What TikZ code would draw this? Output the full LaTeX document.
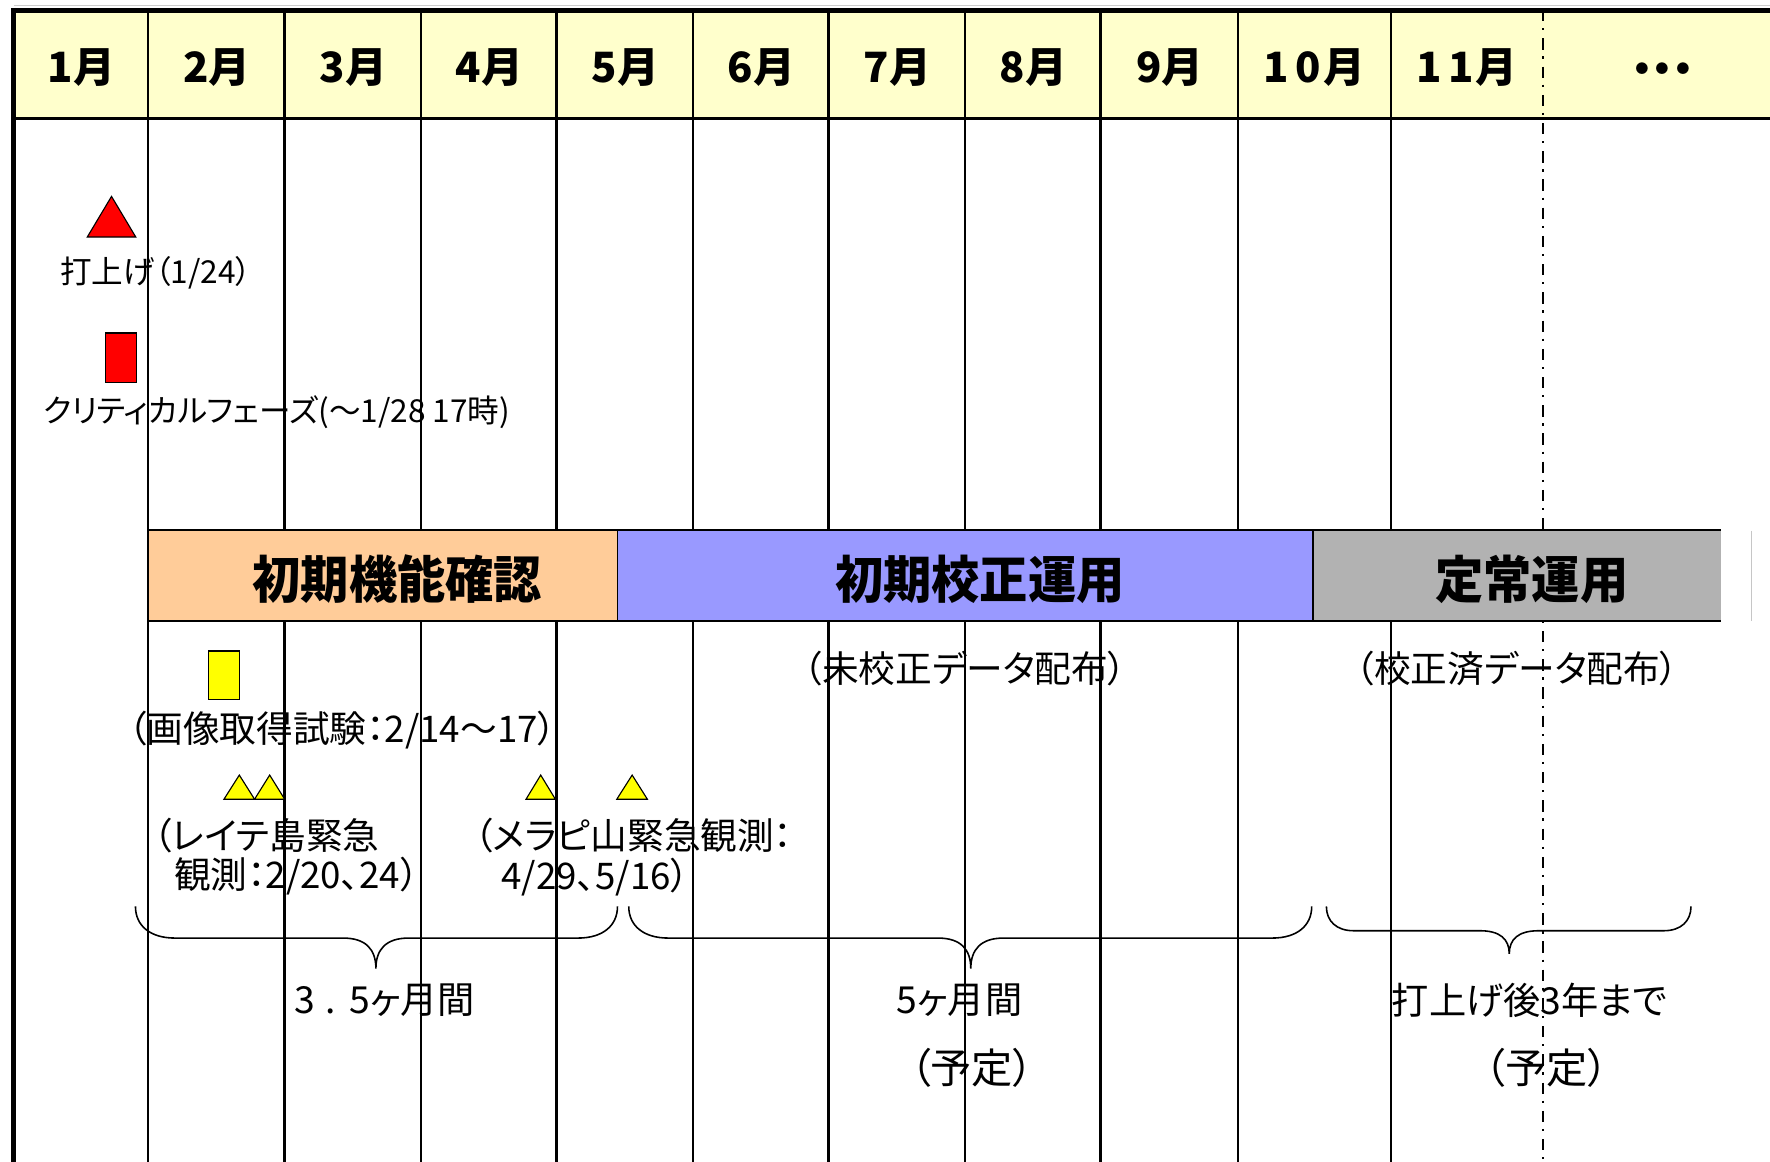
\documentclass[tikz,border=0pt]{standalone}
\usepackage{fontspec}
\setmainfont{Noto Sans CJK JP}[RawFeature=+palt]
\newfontfamily\hdfont{Noto Sans CJK JP}[RawFeature=+palt]
\newfontfamily\phfont{Noto Sans CJK JP}[RawFeature=+palt, FakeStretch=0.95]
\definecolor{hdr}{HTML}{FFFFCC}
\definecolor{ph1}{HTML}{FFCC99}
\definecolor{ph2}{HTML}{9999FF}
\definecolor{ph3}{HTML}{B2B2B2}
\definecolor{myred}{HTML}{FF0000}
\definecolor{myyel}{HTML}{FFFF00}
\tikzset{
  month/.style={inner sep=0pt, font=\hdfont\bfseries\fontsize{37}{40}\selectfont},
  phase/.style={inner sep=0pt, font=\phfont\bfseries\fontsize{45}{48}\selectfont},
  small/.style={inner sep=0pt, font=\fontsize{28}{30}\selectfont},
  mid/.style={inner sep=0pt, font=\fontsize{32.5}{36}\selectfont},
  bot/.style={inner sep=0pt, font=\fontsize{33}{36}\selectfont},
  big/.style={inner sep=0pt, font=\fontsize{36.5}{40}\selectfont},
  colline/.style={line width=2pt, black},
  dashdot/.style={line width=2pt, black, dash pattern=on 10pt off 6pt on 2pt off 7pt},
  brace/.style={line width=1.4pt, black},
  markshape/.style={draw=black, line width=1pt},
}
\begin{document}
\begin{tikzpicture}[x=1pt,y=-1pt]
\useasboundingbox (0,0) rectangle (1568,1029);
% header background
\fill[hdr] (12,9) rectangle (1568,105);
\draw[gray!40, line width=0.8pt] (12,4.5) -- (1568,4.5);
% column lines
\foreach \x in {131,252,373,493,614,734,855,975,1097,1232}
  \draw[colline] (\x,9) -- (\x,1029);
\draw[dashdot] (1367,9) -- (1367,1029);
% header borders
\draw[line width=3pt] (12,105) -- (1568,105);
\draw[line width=4.4pt] (10,9.3) -- (1568,9.3);
\draw[line width=4.4pt] (12,7) -- (12,1029);
% month labels
\node[month] (m1) at (72,60) {1月};
\node[month] (m2) at (192,60) {2月};
\node[month] (m3) at (313,60) {3月};
\node[month] (m4) at (433.5,60) {4月};
\node[month] (m5) at (554,60) {5月};
\node[month] (m6) at (674.5,60) {6月};
\node[month] (m7) at (795,60) {7月};
\node[month] (m8) at (915.5,60) {8月};
\node[month] (m9) at (1036.5,60) {9月};
\node[month] (m10) at (1164.5,60) {1\kern6pt0\kern2pt月};
\node[month] (m11) at (1299.5,60) {1\kern6pt1\kern2pt月};
\node[month] (mx) at (1473,65) {・・・};
% phase bar
\fill[ph1] (131,469.5) rectangle (547,550);
\fill[ph2] (547,469.5) rectangle (1163,550);
\fill[ph3] (1163,469.5) rectangle (1525,550);
\draw[line width=1.6pt] (131,469.5) -- (1525,469.5);
\draw[line width=2.4pt] (131,550) -- (1525,550);
\draw[line width=1.2pt] (131,469.5) -- (131,550);
\draw[line width=1.2pt] (547,469.5) -- (547,550);
\draw[line width=1.2pt] (1163,469.5) -- (1163,550);
\draw[gray!45, line width=0.9pt] (1552,470) -- (1552,550);
\node[phase] (p1) at (352,513) {初期機能確認};
\node[phase] (p2) at (868,513) {初期校正運用};
\node[phase] (p3) at (1357,513) {定常運用};
% markers
\draw[markshape, fill=myred] (77.3,210) -- (120.3,210) -- (98.8,174) -- cycle;
\draw[markshape, fill=myred] (93.2,295) rectangle (121,339);
\draw[markshape, fill=myyel] (184.5,576.7) rectangle (212,620);
\draw[markshape, fill=myyel] (198.4,708) -- (225.5,708) -- (212,686.6) -- cycle;
\draw[markshape, fill=myyel] (225.5,708) -- (252.2,708) -- (238.9,686.6) -- cycle;
\draw[markshape, fill=myyel] (466,708) -- (492,708) -- (479,686.6) -- cycle;
\draw[markshape, fill=myyel] (546.4,708) -- (573.5,708) -- (560,686.6) -- cycle;
% texts
\node[small] (tl) at (138,242) {打上げ（1/24）};
\node[small] (tc) at (245,365) {クリティカルフェーズ(～1/28 17時)};
\node[mid] (ti) at (303,647) {（画像取得試験：2/14～17）};
\node[mid, anchor=west] (ty1) at (136,740) {（レイテ島緊急};
\node[mid, anchor=west] (ty2) at (154,776) {観測：2/20、24）};
\node[mid, anchor=west] (tm1) at (420,740) {（メラピ山緊急観測：};
\node[mid, anchor=west] (tm2) at (444,777) {4/29、5/16）};
\node[mid] (tu) at (855,592) {（未校正データ配布）};
\node[mid] (tk) at (1344,592) {（校正済データ配布）};
\node[bot] (d1) at (341,886) {3\kern2pt{} .\kern2pt{} 5ヶ月間};
\node[bot] (d2) at (850,886) {5ヶ月間};
\node[big] (q1) at (861,946) {（予定）};
\node[bot] (d3) at (1355,886) {打上げ後3年まで};
\node[big] (q2) at (1370,946) {（予定）};
% braces
\draw[brace] (120,803) .. controls (120,820) and (133,831) .. (155,831)
  -- (304,831) .. controls (324,831) and (333,841) .. (333,858)
  .. controls (333,841) and (342,831) .. (362,831)
  -- (512,831) .. controls (534,831) and (547,820) .. (547,803);
\draw[brace] (557,803) .. controls (557,820) and (570,831) .. (592,831)
  -- (831,831) .. controls (851,831) and (860,841) .. (860,858)
  .. controls (860,841) and (869,831) .. (889,831)
  -- (1127,831) .. controls (1149,831) and (1162,820) .. (1162,803);
\draw[brace] (1175,803) .. controls (1175,816) and (1184,824.5) .. (1199,824.5)
  -- (1311,824.5) .. controls (1329,824.5) and (1337,832) .. (1337,845)
  .. controls (1337,832) and (1345,824.5) .. (1363,824.5)
  -- (1474,824.5) .. controls (1489,824.5) and (1498,816) .. (1498,803);
\end{tikzpicture}
\end{document}
